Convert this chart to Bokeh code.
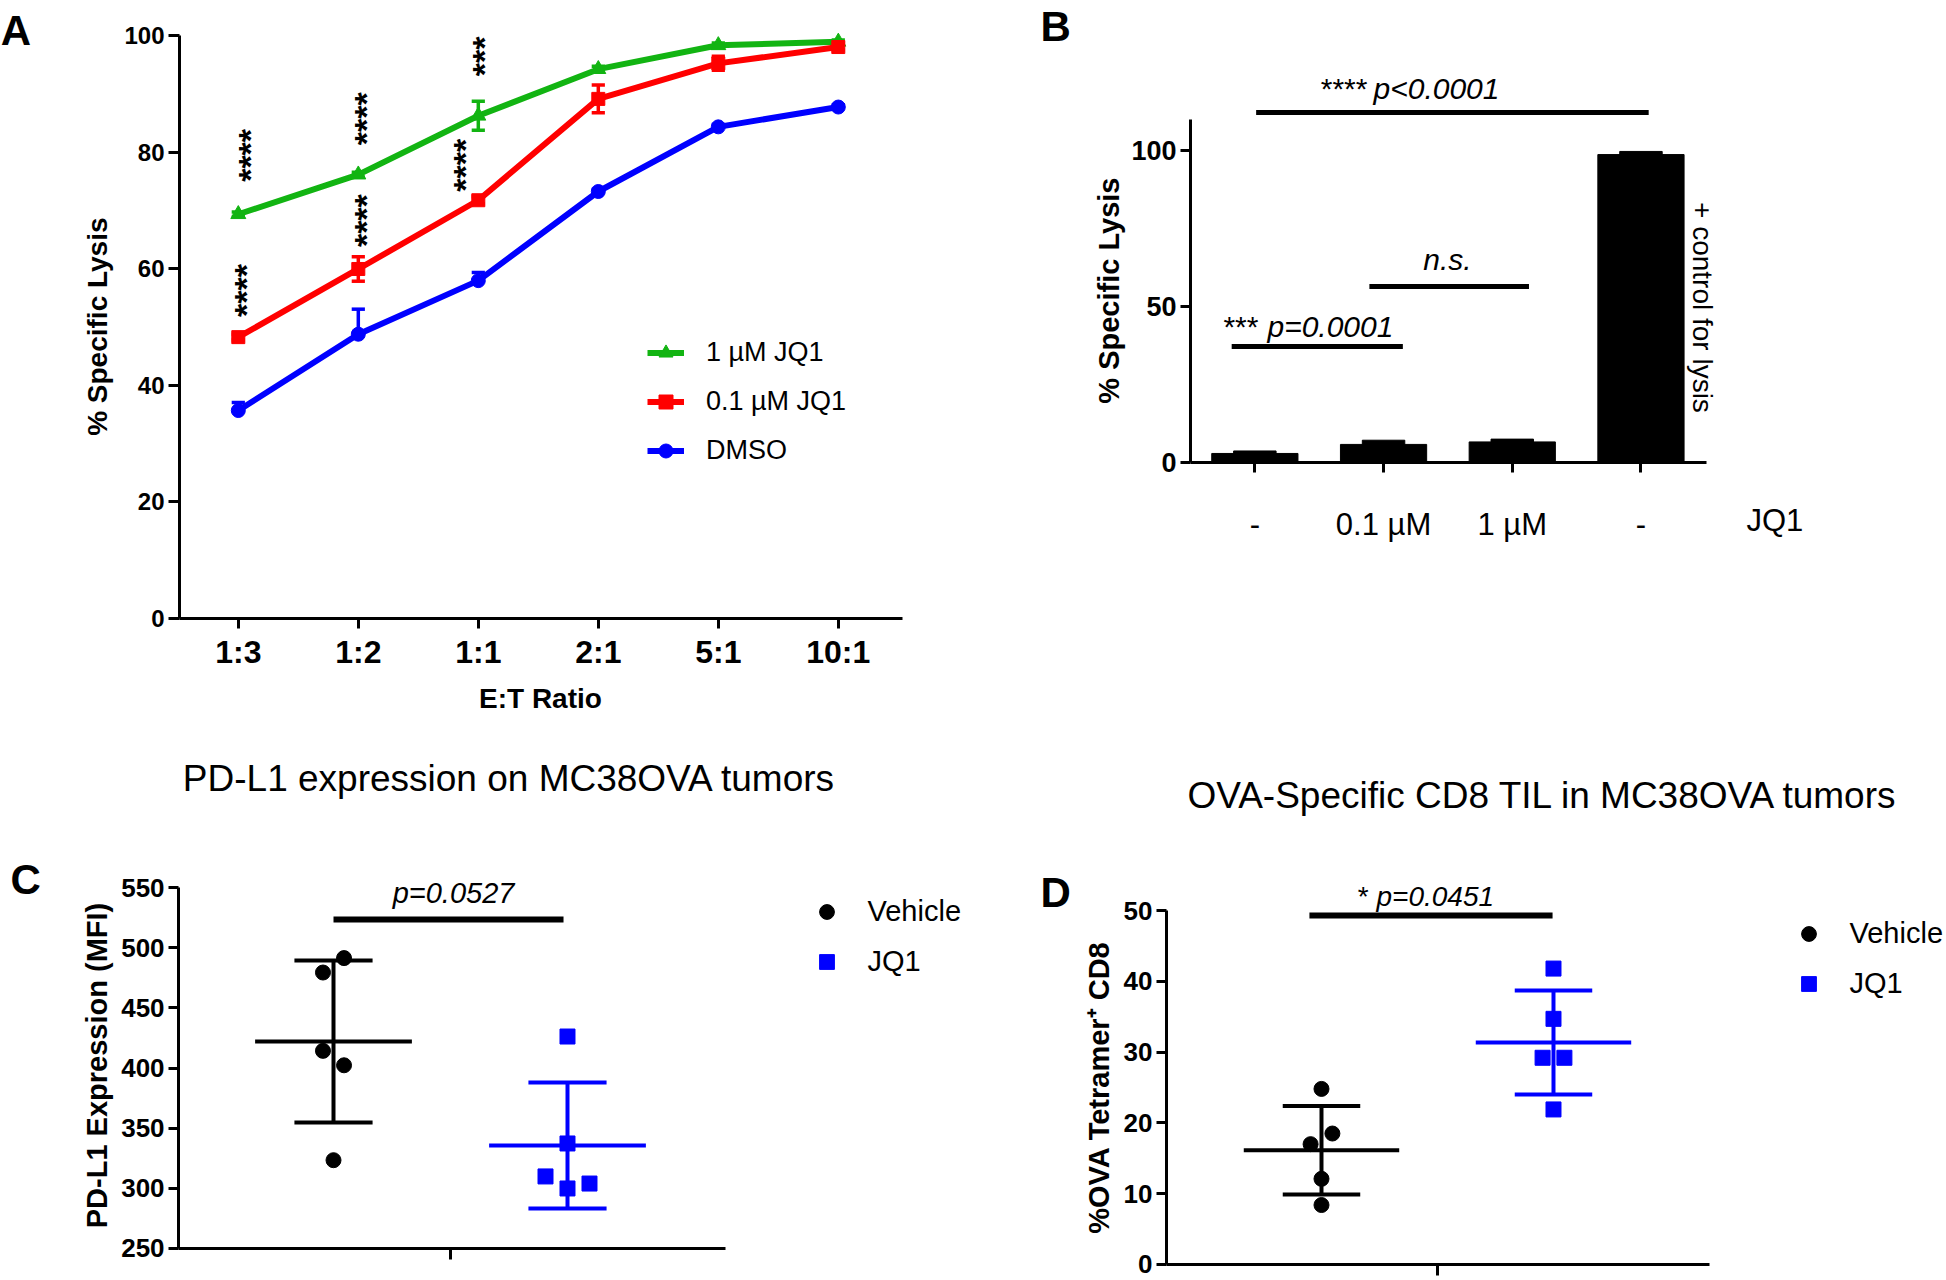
import math
from bokeh.plotting import figure
from bokeh.models import FixedTicker, Legend, LegendItem, Label
from bokeh.layouts import row, column
from bokeh.embed import file_html
from bokeh.resources import INLINE
from bokeh.core.properties import value

FONT = "Liberation Sans"
GREEN = "#12B412"
RED = "#FF0000"
BLUE = "#0000FF"

# ---------------- Panel A data ----------------
ratios = ["1:3", "1:2", "1:1", "2:1", "5:1", "10:1"]
jq1_1uM = [69.4, 76.2, 86.3, 94.3, 98.4, 99.0]
jq1_1uM_err = [0.4, 0.4, 2.5, 0.5, 0.4, 0.3]
jq1_01uM = [48.3, 60.0, 71.8, 89.2, 95.3, 98.1]
jq1_01uM_err = [0.5, 2.1, 0.6, 2.4, 1.2, 0.5]
dmso = [35.7, 48.8, 58.0, 73.3, 84.4, 87.8]
dmso_err = [1.4, 4.3, 1.4, 0.4, 0.4, 0.4]
a_yticks = [0, 20, 40, 60, 80, 100]
a_star_text = ["****", "****", "****", "****", "***", "****"]
a_star_x = [0.10, 0.06, 1.06, 1.06, 2.05, 1.89]
a_star_y = [79.5, 56.3, 85.8, 68.3, 96.5, 77.8]

# ---------------- Panel B data ----------------
b_groups = ["-", "0.1 µM", "1 µM", "-"]
b_lysis = [2.9, 5.8, 6.6, 98.7]
b_err = [0.8, 1.35, 0.9, 1.0]
b_yticks = [0, 50, 100]
b_sig_x0 = [0.01, -0.18, 0.89]
b_sig_x1 = [3.06, 1.15, 2.13]
b_sig_y = [112.2, 37.2, 56.4]

# ---------------- Panel C data ----------------
c_groups = ["Vehicle", "JQ1"]
c_vehicle = [491.4, 479.4, 414.3, 402.3, 323.4]
c_vehicle_jit = [0.045, -0.045, -0.045, 0.045, 0.0]
c_jq1 = [426.2, 337.3, 309.9, 304.0, 299.9]
c_jq1_jit = [0.0, 0.0, -0.094, 0.094, 0.0]
c_mean = [422.1, 335.6]
c_sd = [67.3, 52.4]
c_yticks = [250, 300, 350, 400, 450, 500, 550]

# ---------------- Panel D data ----------------
d_vehicle = [24.8, 18.5, 17.0, 12.1, 8.4]
d_vehicle_jit = [0.0, 0.047, -0.047, 0.0, 0.0]
d_jq1 = [41.8, 34.7, 29.2, 29.2, 21.9]
d_jq1_jit = [0.0, 0.0, -0.047, 0.047, 0.0]
d_mean = [16.15, 31.35]
d_sd = [6.25, 7.35]
d_yticks = [0, 10, 20, 30, 40, 50]


def style(p):
    p.outline_line_color = None
    p.xgrid.visible = False
    p.ygrid.visible = False
    p.background_fill_color = "white"
    p.border_fill_color = "white"
    for ax in p.axis:
        ax.axis_line_width = 3
        ax.axis_line_color = "black"
        ax.major_tick_line_width = 3
        ax.major_tick_line_color = "black"
        ax.major_tick_in = 0
        ax.minor_tick_line_color = None
        ax.major_label_text_font = FONT
        ax.major_label_text_font_style = "bold"
        ax.major_label_text_color = "black"


def lab(p, text, x, y, size="30px", fstyle="normal", align="left",
        baseline="middle", angle=0.0):
    p.add_layout(Label(x=x, y=y, x_units="data", y_units="data", text=text,
                       text_font=FONT, text_font_size=size, text_font_style=fstyle,
                       text_align=align, text_baseline=baseline, angle=angle,
                       text_color="black"))


def make_fig(w, h, xr, yr):
    return figure(width=w, height=h, x_range=xr, y_range=yr,
                  output_backend="svg", toolbar_location=None, title=None,
                  min_border=0, frame_align=False)


# =============== Panel A ===============
pA = make_fig(998, 743, (-1.9817, 6.335), (-21.46, 106.09))
style(pA)
xa = list(range(len(ratios)))
items = []
series = [
    (jq1_1uM, jq1_1uM_err, GREEN, "triangle", 15, "1 µM JQ1", True),
    (jq1_01uM, jq1_01uM_err, RED, "square", 13, "0.1 µM JQ1", True),
    (dmso, dmso_err, BLUE, "circle", 14, "DMSO", False),
]
cap = 0.055
for vals, errs, col, mk, sz, lbl, both in series:
    hi = [v + e for v, e in zip(vals, errs)]
    lo = [v - e for v, e in zip(vals, errs)] if both else list(vals)
    pA.segment(x0=xa, y0=lo, x1=xa, y1=hi, line_color=col, line_width=3.5)
    pA.segment(x0=[x - cap for x in xa], y0=hi, x1=[x + cap for x in xa], y1=hi,
               line_color=col, line_width=3.5)
    if both:
        pA.segment(x0=[x - cap for x in xa], y0=lo, x1=[x + cap for x in xa], y1=lo,
                   line_color=col, line_width=3.5)
    ln = pA.line(xa, vals, line_color=col, line_width=6)
    sc = pA.scatter(xa, vals, marker=mk, size=sz, fill_color=col, line_color=col)
    items.append(LegendItem(label=lbl, renderers=[ln, sc]))

pA.text(x=a_star_x, y=a_star_y, text=a_star_text, angle=math.pi / 2,
        text_align="center", text_baseline="middle", text_font=value(FONT),
        text_font_size="34px", text_font_style="bold", text_color="black")

legA = Legend(items=items, location=(647, 275.5), orientation="vertical",
              glyph_width=37, glyph_height=35, label_height=35, spacing=14,
              label_standoff=22, padding=0, margin=0, border_line_color=None,
              background_fill_alpha=0, label_text_font=FONT,
              label_text_font_size="27px", label_text_color="black")
pA.add_layout(legA)

pA.xaxis.fixed_location = 0
pA.xaxis.bounds = (-0.49, 5.535)
pA.xaxis.ticker = FixedTicker(ticks=xa)
pA.xaxis.major_label_overrides = {i: r for i, r in enumerate(ratios)}
pA.xaxis.major_label_text_font_size = "32px"
pA.xaxis.major_tick_out = 10
pA.xaxis.major_label_standoff = 6
pA.yaxis.fixed_location = -0.49
pA.yaxis.bounds = (0, 100)
pA.yaxis.ticker = FixedTicker(ticks=a_yticks)
pA.yaxis.major_label_text_font_size = "24px"
pA.yaxis.major_tick_out = 11
pA.yaxis.major_label_standoff = 4
lab(pA, "% Specific Lysis", -1.173, 50.1, size="28px", fstyle="bold",
    align="center", angle=math.pi / 2)
lab(pA, "E:T Ratio", 2.518, -13.73, size="28px", fstyle="bold", align="center")
lab(pA, "A", -1.98, 101.0, size="42px", fstyle="bold")

# =============== Panel B ===============
pB = make_fig(948, 743, (-1.9918, 5.374), (-90.06, 148.08))
style(pB)
xb = list(range(len(b_groups)))
pB.vbar(x=xb, top=b_lysis, width=0.67, fill_color="black", line_color="black")
pB.vbar(x=xb, bottom=b_lysis, top=[v + e for v, e in zip(b_lysis, b_err)],
        width=0.33, fill_color="black", line_color="black")
pB.segment(x0=b_sig_x0, y0=b_sig_y, x1=b_sig_x1, y1=b_sig_y,
           line_color="black", line_width=5)
lab(pB, "****", 0.875, 119.8, size="30px", align="right")
lab(pB, "p<0.0001", 0.922, 119.8, size="30px", fstyle="italic")
lab(pB, "***", 0.028, 43.5, size="30px", align="right")
lab(pB, "p=0.0001", 0.098, 43.5, size="30px", fstyle="italic")
lab(pB, "n.s.", 1.497, 65.0, size="30px", fstyle="italic", align="center")
lab(pB, "+ control for lysis", 3.478, 49.7, size="28px",
    align="center", angle=-math.pi / 2)
lab(pB, "JQ1", 3.82, -18.6, size="31px")
lab(pB, "B", -1.666, 139.8, size="42px", fstyle="bold")
lab(pB, "% Specific Lysis", -1.137, 55.1, size="29px", fstyle="bold",
    align="center", angle=math.pi / 2)

pB.xaxis.fixed_location = 0
pB.xaxis.bounds = (-0.5, 3.51)
pB.xaxis.ticker = FixedTicker(ticks=xb)
pB.xaxis.major_label_overrides = {i: g for i, g in enumerate(b_groups)}
pB.xaxis.major_label_text_font_size = "31px"
pB.xaxis.major_label_text_font_style = "normal"
pB.xaxis.major_tick_out = 10
pB.xaxis.major_label_standoff = 34
pB.yaxis.fixed_location = -0.5
pB.yaxis.bounds = (0, 110)
pB.yaxis.ticker = FixedTicker(ticks=b_yticks)
pB.yaxis.major_label_text_font_size = "27px"
pB.yaxis.major_tick_out = 10
pB.yaxis.major_label_standoff = 4


# =============== Scatter panels C / D ===============
def scatter_panel(p, veh, veh_jit, jq, jq_jit, means, sds, leg_loc, x_axis_at, y_axis_at,
                  xbounds, ybounds, yticks):
    half_mean = 0.335
    half_cap = 0.167
    rends = []
    for gi, (vals, jit, col, mk) in enumerate([(veh, veh_jit, "black", "circle"),
                                              (jq, jq_jit, BLUE, "square")]):
        xs = [gi + j for j in jit]
        r = p.scatter(xs, vals, marker=mk, size=15, fill_color=col, line_color=col)
        rends.append(r)
        m, s = means[gi], sds[gi]
        p.segment(x0=[gi], y0=[m - s], x1=[gi], y1=[m + s], line_color=col, line_width=4)
        p.segment(x0=[gi - half_mean], y0=[m], x1=[gi + half_mean], y1=[m],
                  line_color=col, line_width=4)
        p.segment(x0=[gi - half_cap, gi - half_cap], y0=[m + s, m - s],
                  x1=[gi + half_cap, gi + half_cap], y1=[m + s, m - s],
                  line_color=col, line_width=4)
    leg = Legend(items=[LegendItem(label=c_groups[0], renderers=[rends[0]]),
                        LegendItem(label=c_groups[1], renderers=[rends[1]])],
                 location=leg_loc, orientation="vertical", glyph_width=37,
                 glyph_height=37, label_height=37, spacing=13, label_standoff=23,
                 padding=0, margin=0, border_line_color=None, background_fill_alpha=0,
                 label_text_font=FONT, label_text_font_size="29px",
                 label_text_color="black")
    p.add_layout(leg)
    p.xaxis.fixed_location = x_axis_at
    p.xaxis.bounds = xbounds
    p.xaxis.ticker = FixedTicker(ticks=[0.5])
    p.xaxis.major_label_overrides = {0.5: ""}
    p.xaxis.major_label_text_font_size = "0px"
    p.xaxis.major_label_standoff = 0
    p.xaxis.major_tick_out = 11
    p.yaxis.fixed_location = y_axis_at
    p.yaxis.bounds = ybounds
    p.yaxis.ticker = FixedTicker(ticks=yticks)
    p.yaxis.major_label_text_font_size = "26px"
    p.yaxis.major_tick_out = 10
    p.yaxis.major_label_standoff = 4


pC = make_fig(998, 537, (-1.4231, 2.8419), (223.40, 669.78))
style(pC)
scatter_panel(pC, c_vehicle, c_vehicle_jit, c_jq1, c_jq1_jit, c_mean, c_sd, (807.5, 300.5),
              250, -0.662, (-0.662, 1.675), (250, 550), c_yticks)
pC.segment(x0=[0.0], y0=[523.5], x1=[0.983], y1=[523.5], line_color="black", line_width=6)
lab(pC, "p=0.0527", 0.513, 545.7, size="29px", fstyle="italic", align="center")
lab(pC, "PD-L1 Expression (MFI)", -1.011, 402.1, size="29px", fstyle="bold",
    align="center", angle=math.pi / 2)
lab(pC, "PD-L1 expression on MC38OVA tumors", 0.752, 640.9, size="37px", align="center")
lab(pC, "C", -1.38, 556.7, size="42px", fstyle="bold")

pD = make_fig(948, 537, (-1.3922, 2.694), (-2.26, 73.59))
style(pD)
scatter_panel(pD, d_vehicle, d_vehicle_jit, d_jq1, d_jq1_jit, d_mean, d_sd, (791.5, 278.5),
              0, -0.668, (-0.668, 1.672), (0, 50), d_yticks)
pD.segment(x0=[-0.052], y0=[49.3], x1=[0.996], y1=[49.3], line_color="black", line_width=6)
lab(pD, "*", 0.203, 51.95, size="28px", align="right")
lab(pD, "p=0.0451", 0.237, 51.95, size="28px", fstyle="italic")
lab(pD, "%OVA Tetramer\u207a CD8", -0.957, 25.0, size="29px", fstyle="bold",
    align="center", angle=math.pi / 2)
lab(pD, "OVA-Specific CD8 TIL in MC38OVA tumors", 0.957, 66.27, size="37px", align="center")
lab(pD, "D", -1.211, 52.54, size="42px", fstyle="bold")

layout = column(row(pA, pB), row(pC, pD))
open("out.html", "w").write(file_html(layout, INLINE))
